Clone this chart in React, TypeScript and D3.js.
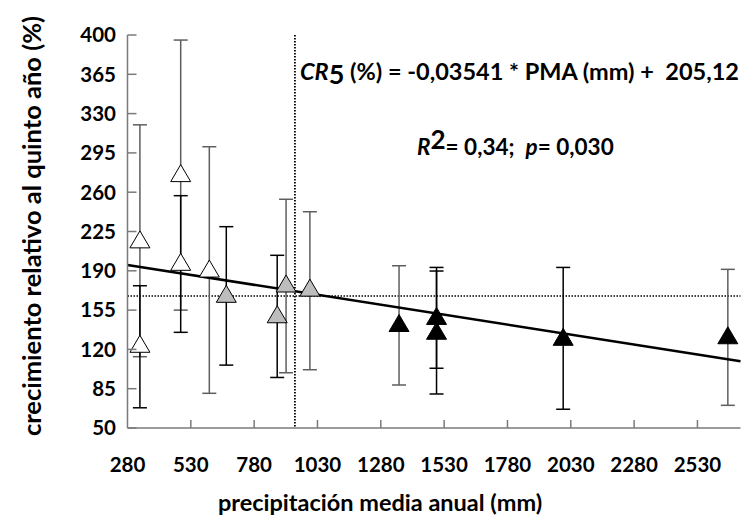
import React from "react";
import * as d3 from "d3";

// ---- data ----
const precip = [329, 329, 490, 490, 603, 670, 871, 906, 1000, 1352, 1500, 1500, 2000, 2650];
const crecimiento = [218, 125, 277, 198, 192, 169.5, 151.3, 178.7, 175, 143.5, 149.8, 136.6, 131.2, 132.6];
const errLow = [113.5, 68, 155, 135.2, 80.9, 106, 95, 99.2, 101.9, 88.3, 103.2, 80.3, 66.7, 70.2];
const errHigh = [320, 176.7, 395.5, 256.9, 300.5, 229.3, 203.8, 253.7, 242.6, 194.5, 193, 189.8, 193, 191.3];
const grupo = ["open", "open", "open", "open", "open", "gray", "gray", "gray", "gray", "black", "black", "black", "black", "black"];
const barTone = ["gray", "black", "gray", "black", "gray", "black", "black", "gray", "gray", "gray", "black", "black", "black", "gray"];

const xTicks = [280, 530, 780, 1030, 1280, 1530, 1780, 2030, 2280, 2530];
const yTicks = [50, 85, 120, 155, 190, 225, 260, 295, 330, 365, 400];

const slope = -0.03541;
const intercept = 205.12;
const refPrecip = 941;
const refCrec = 167.6;

const FONT = "Lato, 'Open Sans', sans-serif";

export default function App() {
  const W = 751, H = 521;
  const x = d3.scaleLinear().domain([280, 2700]).range([127.5, 740.5]);
  const y = d3.scaleLinear().domain([50, 400]).range([428, 35]);
  const axisColor = "#7a7a7a";

  const triW = 20, triH = 17;
  const tri = (cx: number, cy: number) =>
    `M${cx},${cy - triH / 2}L${cx + triW / 2},${cy + triH / 2}L${cx - triW / 2},${cy + triH / 2}Z`;
  const fillOf: Record<string, string> = { open: "#ffffff", gray: "#bdbdbd", black: "#000000" };
  const capW = 14;

  const x0 = 280, x1 = 2700;

  return (
    <svg width={W} height={H} style={{ position: "absolute", left: 0, top: 0, background: "#fff" }}
      fontFamily={FONT}>
      {/* reference dotted lines */}
      <line x1={x(refPrecip)} x2={x(refPrecip)} y1={y(400)} y2={y(50)} stroke="#000" strokeWidth={1.8} strokeDasharray="1.5,1.5" />
      <line x1={x(280)} x2={x(2700)} y1={y(refCrec)} y2={y(refCrec)} stroke="#000" strokeWidth={1.4} strokeDasharray="1.5,1.5" />

      {/* error bars */}
      {precip.map((p, i) => {
        const c = barTone[i] === "gray" ? "#5e5e5e" : "#000000";
        const cx = x(p);
        return (
          <g key={"e" + i} stroke={c} strokeWidth={1.5}>
            <line x1={cx} x2={cx} y1={y(errLow[i])} y2={y(errHigh[i])} />
            <line x1={cx - capW / 2} x2={cx + capW / 2} y1={y(errLow[i])} y2={y(errLow[i])} />
            <line x1={cx - capW / 2} x2={cx + capW / 2} y1={y(errHigh[i])} y2={y(errHigh[i])} />
          </g>
        );
      })}

      {/* regression line */}
      <line x1={x(x0)} y1={y(slope * x0 + intercept)} x2={x(x1)} y2={y(slope * x1 + intercept)}
        stroke="#000" strokeWidth={2.5} />

      {/* markers */}
      {precip.map((p, i) => (
        <path key={"m" + i} d={tri(x(p), y(crecimiento[i]))} fill={fillOf[grupo[i]]} stroke="#000" strokeWidth={1} />
      ))}

      {/* axes */}
      <line x1={x(280)} x2={x(280)} y1={y(400)} y2={y(50)} stroke={axisColor} strokeWidth={1.5} />
      <line x1={x(280)} x2={x(2700)} y1={y(50)} y2={y(50)} stroke={axisColor} strokeWidth={1.5} />
      {yTicks.map((t) => (
        <line key={"yt" + t} x1={x(280)} x2={x(280) + 9} y1={y(t)} y2={y(t)} stroke={axisColor} strokeWidth={1.5} />
      ))}
      {xTicks.slice(1).map((t) => (
        <line key={"xt" + t} x1={x(t)} x2={x(t)} y1={y(50)} y2={y(50) - 8} stroke={axisColor} strokeWidth={1.5} />
      ))}

      {/* tick labels */}
      {yTicks.map((t) => (
        <text key={"yl" + t} x={116} y={y(t)} dy="0.36em" textAnchor="end" fontSize={20.5} fontWeight="bold" fill="#000">{t}</text>
      ))}
      {xTicks.map((t) => (
        <text key={"xl" + t} x={x(t)} y={472} textAnchor="middle" fontSize={20.5} fontWeight="bold" fill="#000">{t}</text>
      ))}

      {/* axis titles */}
      <text x={380} y={511} textAnchor="middle" fontSize={23.5} fontWeight="bold" fill="#000">precipitación media anual (mm)</text>
      <text transform="translate(41,226) rotate(-90)" textAnchor="middle" fontSize={25.5} fontWeight="bold" fill="#000">crecimiento relativo al quinto año (%)</text>

      {/* annotations */}
      <text x={300} y={80} fontSize={23.5} fontWeight="bold" fill="#000" style={{ whiteSpace: "pre" }}>
        <tspan fontStyle="italic">CR</tspan>
        <tspan fontSize={27} dy={4}>5</tspan>
        <tspan dy={-4}>{" (%) = -0,03541 * PMA (mm) +  205,12"}</tspan>
      </text>
      <text x={417} y={155} fontSize={22.5} fontWeight="bold" fill="#000" style={{ whiteSpace: "pre" }}>
        <tspan fontStyle="italic">R</tspan>
        <tspan fontSize={26} dy={-6}>2</tspan>
        <tspan dy={6}>{"= 0,34;  "}</tspan>
        <tspan fontStyle="italic">p</tspan>
        <tspan>{"= 0,030"}</tspan>
      </text>
    </svg>
  );
}
